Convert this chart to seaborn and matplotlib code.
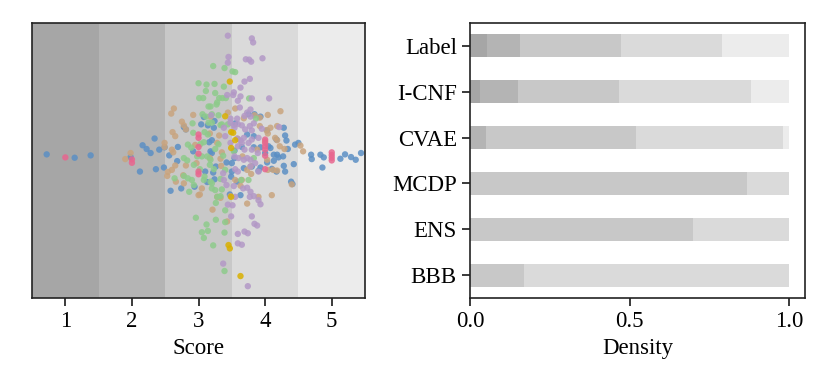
import matplotlib
matplotlib.use("Agg")
import matplotlib.pyplot as plt
import seaborn as sns
import pandas as pd

# ---- left panel: per-method scores (x) and vertical spread (y) ----
label_score = [1.0, 2.0, 2.0, 3.0, 3.0, 3.0, 3.0, 3.0, 3.0,
               4.0, 4.0, 4.0, 4.0, 4.0, 4.0, 5.0, 5.0, 5.0, 5.0]
label_y = [41.7, 41.1, 40.1, 48.5, 47.5, 44.8, 42.8, 37.5, 36.7,
           47.0, 46.0, 45.0, 44.0, 42.2, 38.2, 43.2, 42.4, 41.6, 40.8]

icnf_score = [0.72, 1.14, 1.38, 1.98, 2.16, 2.22, 2.28, 2.34, 2.41, 2.49, 2.12, 2.36,
              2.48, 2.56, 2.68, 2.58, 2.74, 2.78, 2.81, 2.69, 2.92, 2.94, 3.08, 3.04,
              3.14, 3.24, 3.20, 3.16, 3.20, 3.22, 3.26, 3.13, 3.24, 3.42, 3.50, 3.54,
              3.54, 3.65, 3.68, 3.47, 3.58, 3.73, 3.83, 3.75, 3.84, 3.93, 3.55, 3.83,
              3.93, 4.05, 3.80, 3.93, 3.90, 4.00, 4.03, 4.18, 4.28, 4.30, 4.32, 4.34,
              4.27, 4.20, 4.28, 4.30, 4.39, 4.41, 4.43, 4.45, 4.50, 4.69, 4.70, 4.83,
              4.88, 4.86, 5.13, 5.20, 5.29, 5.36, 5.44, 3.49, 3.63,
              3.23, 3.18, 4.08, 4.13, 4.17, 4.13, 3.10, 3.50, 4.10, 4.17, 4.03]
icnf_y = [42.6, 41.6, 42.3, 41.8, 45.3, 44.2, 43.0, 47.3, 44.0, 44.7, 37.5, 38.2,
          38.7, 42.3, 40.6, 31.8, 32.5, 50.7, 50.0, 44.8, 43.5, 33.0, 53.7, 51.5,
          51.2, 52.5, 46.8, 46.2, 43.0, 37.2, 39.0, 34.4, 35.2, 40.2, 40.0, 41.5,
          43.7, 44.8, 38.5, 30.7, 34.5, 48.5, 48.0, 54.5, 54.5, 53.8, 51.8, 44.7,
          44.7, 45.0, 39.0, 38.7, 37.7, 43.0, 40.2, 42.5, 50.5, 48.2, 46.7, 44.2,
          42.0, 41.7, 39.2, 37.5, 34.5, 33.8, 39.7, 45.5, 46.0, 42.5, 41.2, 42.5,
          41.7, 38.7, 41.3, 42.6, 41.8, 41.0, 43.0, 36.0, 30.5,
          50.5, 43.5, 44.5, 42.5, 47.0, 40.7, 37.5, 37.5, 38.3, 37.5, 49.7]

cvae_score = [1.98, 1.90, 2.59, 2.63, 2.75, 2.78, 2.81, 2.49, 2.49, 2.62, 2.65, 2.81,
              2.53, 2.54, 2.77, 2.66, 2.92, 3.18, 3.02, 3.05, 3.21, 3.43, 3.28, 3.33,
              3.55, 3.44, 4.23, 3.92, 3.84, 4.04, 3.92, 4.02, 4.04, 4.15, 4.18, 4.22,
              4.29, 4.53, 4.57, 4.12, 4.18, 4.10, 4.40, 3.73, 3.79, 3.63, 3.17, 3.31,
              4.00, 2.95, 3.28, 3.35, 3.88, 3.17, 3.33, 3.66, 2.97, 3.34, 3.73, 3.78,
              4.04, 2.78, 3.00, 3.55, 3.48, 3.90, 2.61, 2.65,
              3.68, 4.08, 4.18, 2.60, 2.60, 3.65, 3.58, 4.03]
cvae_y = [43.0, 41.2, 54.7, 56.2, 52.3, 51.2, 50.0, 46.0, 44.8, 43.2, 39.3, 39.3,
          36.2, 37.4, 36.4, 34.5, 54.3, 53.8, 30.7, 32.5, 26.2, 22.7, 30.0, 29.7,
          56.2, 55.0, 55.4, 53.5, 54.2, 54.3, 51.0, 49.8, 48.8, 47.5, 46.8, 45.0,
          44.2, 45.2, 43.5, 38.0, 37.8, 30.5, 33.7, 28.0, 36.8, 33.3, 48.8, 48.2,
          46.5, 45.4, 46.0, 43.2, 44.0, 41.5, 41.3, 42.0, 40.0, 39.2, 38.0, 39.0,
          38.0, 34.0, 30.5, 35.0, 30.2, 30.0, 49.2, 48.0,
          53.3, 50.5, 51.0, 44.0, 38.0, 35.0, 47.3, 41.0]

mcdp_score = [3.22, 3.39, 3.51, 3.55, 3.00, 3.12, 3.24, 3.38, 3.11, 3.25, 3.01, 3.07,
              3.31, 3.36, 3.41, 3.28, 3.76, 3.18, 3.15, 3.27, 3.06, 3.30, 3.86, 3.11,
              3.20, 2.91, 3.35, 3.44, 2.92, 3.09, 3.14, 3.08, 2.84, 2.89, 3.03, 3.30,
              3.25, 3.53, 3.05, 3.13, 3.37, 3.83, 2.83, 2.93, 3.02, 3.17, 3.23, 3.40,
              2.64, 2.78, 2.84, 2.90, 2.93, 3.09, 3.20, 3.25, 3.35, 3.75, 3.64, 2.96,
              3.12, 3.14, 3.05, 3.08, 3.26, 3.40, 3.39, 3.22, 3.39, 2.86, 3.28, 3.33,
              3.26, 3.40, 2.78,
              3.20, 3.15, 3.33, 3.18, 3.08, 3.18, 3.33, 3.20, 2.98]
mcdp_y = [68.8, 68.2, 67.2, 67.0, 63.7, 63.3, 63.5, 62.7, 61.4, 60.8, 59.3, 59.3,
          59.3, 59.3, 59.3, 58.0, 59.2, 56.8, 56.8, 57.4, 54.5, 54.2, 53.2, 53.8,
          52.0, 51.8, 51.5, 51.5, 49.0, 49.2, 48.5, 46.2, 45.5, 44.6, 45.7, 45.6,
          44.2, 43.5, 42.0, 42.0, 42.2, 41.5, 40.8, 39.5, 38.2, 39.5, 38.2, 38.0,
          35.5, 36.2, 35.5, 35.0, 33.5, 36.0, 34.0, 32.0, 32.2, 35.0, 35.0, 23.8,
          21.8, 19.9, 19.5, 17.8, 23.2, 22.5, 19.4, 15.6, 8.0, 31.5, 30.0, 30.2,
          28.2, 26.0, 41.5,
          54.5, 52.0, 51.3, 41.0, 35.0, 34.5, 35.3, 32.5, 42.0]

ens_score = [3.47, 3.40, 3.49, 3.52, 3.55, 3.49, 3.49, 3.45, 3.47, 3.63]
ens_y = [64.2, 53.9, 49.2, 49.0, 46.8, 44.5, 30.0, 15.7, 14.7, 6.5]

bbb_score = [3.44, 3.80, 3.82, 3.45, 3.44, 3.71, 3.76, 3.79, 3.96, 3.69, 3.77, 3.63,
             3.53, 3.52, 3.43, 3.63, 3.59, 3.80, 4.06, 3.62, 3.78, 3.73, 3.48, 3.58,
             3.69, 3.78, 3.19, 3.48, 3.59, 3.65, 3.77, 3.83, 3.95, 3.40, 3.59, 3.63,
             3.68, 3.80, 3.90, 3.48, 3.59, 3.69, 3.54, 3.60, 3.68, 3.73, 3.78, 3.89,
             3.85, 3.37, 3.55, 3.59, 3.38, 3.42, 3.53, 3.67, 3.73, 3.78, 3.83, 3.55,
             3.77, 3.90, 3.93, 3.51, 3.44, 3.80, 3.84, 3.88, 3.59, 3.69, 3.74, 3.59,
             3.65, 3.37, 3.74, 4.21, 3.49,
             3.53, 3.54, 3.70, 3.80, 3.65, 3.75, 3.80, 3.78, 3.90, 3.38]
bbb_y = [77.8, 77.0, 75.8, 71.5, 69.8, 70.8, 70.7, 70.1, 71.1, 64.2, 65.0, 62.4,
         61.0, 60.2, 60.2, 59.8, 58.5, 59.2, 59.2, 56.5, 55.9, 55.0, 53.2, 53.2,
         54.0, 53.8, 54.2, 52.0, 51.6, 51.2, 51.0, 51.8, 50.2, 48.0, 47.2, 46.7,
         47.5, 47.0, 47.5, 46.0, 45.0, 44.0, 42.0, 41.5, 41.0, 41.5, 41.0, 43.0,
         40.0, 37.0, 38.2, 37.5, 35.0, 33.5, 33.2, 32.5, 32.7, 31.5, 30.2, 30.0,
         30.0, 29.0, 27.8, 27.5, 27.7, 24.2, 22.0, 21.5, 19.0, 19.7, 19.2, 16.2,
         15.8, 10.2, 3.5, 50.7, 24.2,
         51.3, 50.5, 50.0, 49.7, 46.0, 46.0, 44.0, 39.0, 37.5, 50.5]

# ---- right panel: share of each rounded score per method ----
methods = ["Label", "I-CNF", "CVAE", "MCDP", "ENS", "BBB"]
score_levels = [1, 2, 3, 4, 5]
density_1 = [0.054, 0.032, 0.000, 0.000, 0.000, 0.000]
density_2 = [0.104, 0.118, 0.050, 0.000, 0.000, 0.000]
density_3 = [0.315, 0.317, 0.470, 0.869, 0.698, 0.169]
density_4 = [0.316, 0.414, 0.460, 0.131, 0.302, 0.831]
density_5 = [0.211, 0.119, 0.020, 0.000, 0.000, 0.000]

shades = ["#a6a6a6", "#b4b4b4", "#c8c8c8", "#dadada", "#ececec"]
point_colors = {"I-CNF": "#5b8fc4", "CVAE": "#c9a47e", "MCDP": "#8ecb8b",
                "BBB": "#b398c6", "ENS": "#d9b000", "Label": "#e8668f"}

sns.set_theme(style="ticks")
plt.rcParams["font.family"] = ["Liberation Serif", "DejaVu Serif"]
plt.rcParams["font.size"] = 16.5
plt.rcParams["axes.edgecolor"] = "#222222"
plt.rcParams["axes.labelcolor"] = "black"
plt.rcParams["text.color"] = "black"
plt.rcParams["xtick.color"] = "#222222"
plt.rcParams["ytick.color"] = "#222222"
plt.rcParams["xtick.labelcolor"] = "black"
plt.rcParams["ytick.labelcolor"] = "black"

frames = []
for name, xs, ys in [("I-CNF", icnf_score, icnf_y), ("CVAE", cvae_score, cvae_y),
                     ("MCDP", mcdp_score, mcdp_y), ("BBB", bbb_score, bbb_y),
                     ("ENS", ens_score, ens_y), ("Label", label_score, label_y)]:
    frames.append(pd.DataFrame({"score": xs, "spread": ys, "method": name}))
points = pd.concat(frames, ignore_index=True)

fig = plt.figure(figsize=(8.3, 3.88), dpi=100)
ax1 = fig.add_axes([0.0386, 0.232, 0.4012, 0.709])
ax2 = fig.add_axes([0.5663, 0.232, 0.4036, 0.709])

# left: shaded score bands + scatter
for lvl, shade in zip(score_levels, shades):
    ax1.axvspan(lvl - 0.5, lvl + 0.5, color=shade, lw=0, zorder=0)
sns.scatterplot(data=points, x="score", y="spread", hue="method",
                palette=point_colors, s=21, linewidth=0, alpha=0.85,
                legend=False, ax=ax1, zorder=2)
ax1.set_xlim(0.5, 5.5)
ax1.set_ylim(0, 81.6)
ax1.set_xticks(score_levels)
ax1.set_yticks([])
ax1.set_xlabel("Score", fontsize=16.5)
ax1.set_ylabel("")
ax1.tick_params(axis="x", labelsize=16.5)

# right: stacked horizontal density bars, drawn from the full stack down
layers = [density_1, density_2, density_3, density_4, density_5]
cumulative = []
running = [0.0] * len(methods)
for layer in layers:
    running = [r + v for r, v in zip(running, layer)]
    cumulative.append(running)
for cum, shade in reversed(list(zip(cumulative, shades))):
    sns.barplot(x=cum, y=methods, color=shade, width=0.5, saturation=1,
                errorbar=None, orient="h", ax=ax2, linewidth=0)
ax2.set_xlim(0, 1.05)
ax2.set_xticks([0.0, 0.5, 1.0])
ax2.set_xticklabels(["0.0", "0.5", "1.0"])
ax2.set_xlabel("Density", fontsize=16.5)
ax2.set_ylabel("")
ax2.tick_params(axis="both", labelsize=16.5)

for ax in (ax1, ax2):
    for sp in ax.spines.values():
        sp.set_visible(True)
        sp.set_linewidth(1.2)

fig.savefig("out.png", dpi=100)
